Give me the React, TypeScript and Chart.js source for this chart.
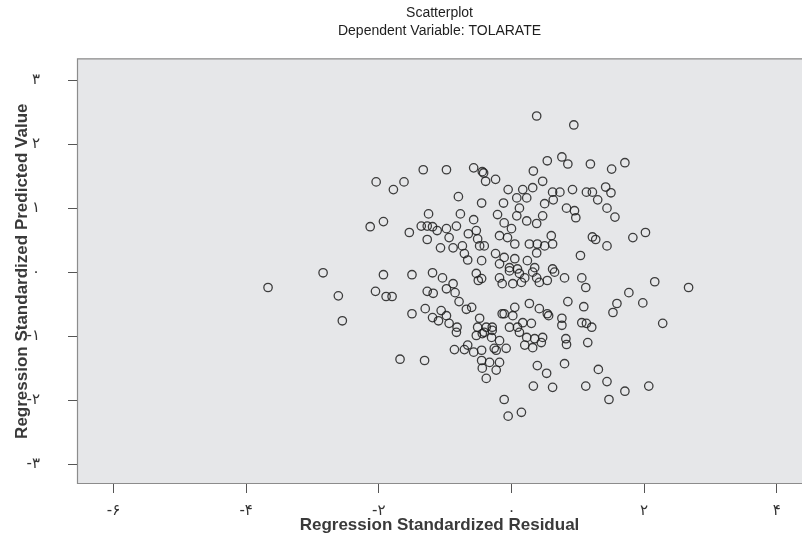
import React, { useEffect, useRef } from "react";
import { Chart, registerables } from "chart.js";

Chart.register(...registerables);

const titleLines = ["Scatterplot", "Dependent Variable: TOLARATE"];
const xTitle = "Regression Standardized Residual";
const yTitle = "Regression Standardized Predicted Value";
const persianDigits = ["۰", "۱", "۲", "۳", "۴", "۵", "۶", "۷", "۸", "۹"];
const xTickValues = [-6, -4, -2, 0, 2, 4];
const yTickValues = [-3, -2, -1, 0, 1, 2, 3];

// Regression standardized residual (x)
const residual = [
  -3.67, -2.84, -2.61, -2.55, -2.04, -1.78, -1.62, -2.13, -1.93, -1.93,
  -2.05, -1.89, -1.80, -1.68, -1.31, -1.33, -0.98, -0.57, -0.44, -0.39,
  -0.24, -0.80, -0.45, -1.54, -1.36, -1.27, -1.19, -1.27, -1.25, -0.77,
  -0.57, -1.12, -0.98, -0.83, -0.94, -1.07, -0.88, -0.74, -0.65, -0.53,
  -0.51, -0.48, -0.41, -0.71, -0.66, -0.45, -0.24, 0.38, 0.54, 0.76,
  0.33, 0.47, 0.32, 0.17, -0.05, 0.62, 0.63, 0.50, 0.23, 0.08,
  0.12, -0.12, 0.08, 0.23, 0.38, 0.47, -0.21, -0.11, 0.0, -0.18,
  -0.06, 0.05, 0.27, 0.39, 0.50, 0.38, 0.60, 0.62, -0.11, 0.05,
  -0.18, -0.03, 0.09, 0.24, 0.35, 0.62, -0.42, 0.94, 0.85, 1.19,
  1.51, 1.71, 0.73, 0.92, 1.13, 1.22, 1.42, 1.50, 1.30, 1.44,
  0.83, 0.95, 0.97, 1.56, 1.22, 1.27, 1.44, 1.83, 2.02, 1.04,
  -1.50, -1.19, -1.04, -0.88, -0.98, -0.53, -0.50, -1.27, -1.18, -0.85,
  -0.79, -0.18, -0.14, 0.02, 0.12, 0.20, -0.03, 0.15, 0.32, 0.42,
  0.38, 0.54, 0.65, 0.80, 1.06, 1.12, -0.45, 2.16, 2.67, 1.77,
  1.98, -1.50, -1.30, -1.19, -1.06, -0.98, -1.10, -0.94, -0.82, -0.83,
  -0.68, -0.60, -0.48, -0.51, -0.41, -0.29, -0.18, -0.30, -0.53, -0.66,
  -0.86, -0.71, -0.57, -0.45, -0.23, -0.08, -0.14, 0.05, 0.02, -0.03,
  0.17, 0.30, 0.12, 0.23, 0.35, 0.20, 0.32, 0.47, 0.45, 0.27,
  0.42, 0.54, 0.85, 1.09, 1.59, 1.53, 0.76, 0.76, 1.06, 1.13,
  1.21, 2.28, 0.82, 0.83, 1.15, -0.38, -0.29, -0.44, -0.26, 0.09,
  0.56, -0.11, -0.44, -0.33, -0.18, -0.23, -0.38, -0.11, -0.05, 0.15,
  0.39, 0.53, 0.33, 0.62, 0.80, 1.31, 1.44, 1.12, 1.71, 1.47,
  2.07, -0.45,
];

// Regression standardized predicted value (y)
const predicted = [
  -0.24, -0.01, -0.37, -0.76, 1.41, 1.29, 1.41, 0.71, 0.79, -0.04,
  -0.30, -0.38, -0.38, -1.36, -1.38, 1.60, 1.60, 1.63, 1.57, 1.42,
  1.45, 1.18, 1.08, 0.62, 0.72, 0.72, 0.71, 0.51, 0.91, 0.91,
  0.82, 0.65, 0.68, 0.72, 0.54, 0.38, 0.38, 0.41, 0.60, 0.65,
  0.52, 0.41, 0.41, 0.29, 0.19, 0.18, 0.29, 2.44, 1.74, 1.80,
  1.58, 1.42, 1.32, 1.29, 1.29, 1.25, 1.13, 1.07, 1.16, 1.16,
  1.00, 1.08, 0.88, 0.80, 0.76, 0.88, 0.90, 0.77, 0.68, 0.57,
  0.54, 0.44, 0.44, 0.44, 0.41, 0.30, 0.57, 0.44, 0.23, 0.21,
  0.13, 0.07, 0.05, 0.18, 0.07, 0.05, 1.55, 2.30, 1.69, 1.69,
  1.61, 1.71, 1.25, 1.29, 1.25, 1.25, 1.33, 1.24, 1.13, 1.00,
  1.00, 0.96, 0.85, 0.86, 0.55, 0.51, 0.41, 0.54, 0.62, 0.26,
  -0.04, -0.01, -0.09, -0.18, -0.26, -0.02, -0.13, -0.30, -0.33, -0.32,
  -0.46, -0.09, -0.18, -0.18, -0.02, -0.09, 0.02, -0.16, 0.0, -0.16,
  -0.09, -0.13, 0.0, -0.09, -0.09, -0.24, -0.10, -0.15, -0.24, -0.32,
  -0.48, -0.65, -0.57, -0.71, -0.60, -0.68, -0.76, -0.80, -0.86, -0.94,
  -0.58, -0.55, -0.72, -0.86, -0.94, -0.86, -1.07, -1.02, -0.99, -1.14,
  -1.21, -1.21, -1.25, -1.22, -1.22, -1.19, -0.65, -0.55, -0.68, -0.86,
  -0.79, -0.80, -0.94, -1.02, -1.04, -1.14, -1.18, -1.02, -1.10, -0.49,
  -0.57, -0.65, -0.46, -0.54, -0.49, -0.63, -0.72, -0.83, -0.79, -0.80,
  -0.86, -0.80, -1.04, -1.13, -1.10, -0.86, -0.91, -0.96, -1.19, -0.86,
  -0.68, -0.65, -1.50, -1.41, -1.41, -1.53, -1.66, -1.99, -2.25, -2.19,
  -1.46, -1.58, -1.78, -1.80, -1.43, -1.52, -1.71, -1.78, -1.86, -1.99,
  -1.78, -1.38,
];

const X_MIN = -6.55;
const X_MAX = 4.38;
const Y_MIN = -3.31;
const Y_MAX = 3.34;

function toPersian(v: number): string {
  const n = Math.round(v);
  const s = String(Math.abs(n))
    .split("")
    .map((d) => persianDigits[Number(d)])
    .join("");
  return n < 0 ? "-" + s : s;
}

const plotFrame = {
  id: "plotFrame",
  beforeDraw(chart: any) {
    const { ctx, chartArea } = chart;
    const { left, top, right, bottom } = chartArea;
    ctx.save();
    ctx.fillStyle = "#ffffff";
    ctx.fillRect(0, 0, chart.width, chart.height);
    ctx.fillStyle = "#e6e7e9";
    ctx.fillRect(left, top, right - left, bottom - top);
    ctx.strokeStyle = "#8c8c8c";
    ctx.lineWidth = 1.2;
    ctx.beginPath();
    ctx.moveTo(right, top + 0.5);
    ctx.lineTo(left + 0.5, top + 0.5);
    ctx.lineTo(left + 0.5, bottom - 0.5);
    ctx.lineTo(right, bottom - 0.5);
    ctx.stroke();
    ctx.restore();
  },
};

export default function App() {
  const canvasRef = useRef<HTMLCanvasElement | null>(null);

  useEffect(() => {
    document.body.style.margin = "0";
    const canvas = canvasRef.current;
    if (!canvas) return;
    const points = residual.map((x, i) => ({ x, y: predicted[i] }));
    const chart = new Chart(canvas, {
      type: "scatter",
      data: {
        datasets: [
          {
            data: points,
            pointStyle: "circle",
            pointRadius: 4.2,
            pointBorderWidth: 1.3,
            pointBorderColor: "rgba(30,30,30,0.85)",
            pointBackgroundColor: "rgba(0,0,0,0)",
          },
        ],
      },
      options: {
        animation: false,
        responsive: false,
        maintainAspectRatio: false,
        layout: { autoPadding: false, padding: { left: 0, right: 0, top: 0, bottom: 0 } },
        plugins: {
          legend: { display: false },
          tooltip: { enabled: false },
          title: {
            display: true,
            text: titleLines,
            fullSize: false,
            color: "#1e1e1e",
            font: { family: "'Liberation Sans', Arial, sans-serif", size: 14, weight: "normal", lineHeight: 1.3 },
            padding: { top: 4, bottom: 18 },
          },
        },
        scales: {
          x: {
            type: "linear",
            min: X_MIN,
            max: X_MAX,
            afterFit: (scale: any) => {
              scale.height = 50;
              scale.paddingLeft = 0;
              scale.paddingRight = 0;
            },
            afterBuildTicks: (scale: any) => {
              scale.ticks = xTickValues.map((v) => ({ value: v }));
            },
            border: { display: false },
            grid: {
              drawOnChartArea: false,
              drawTicks: true,
              tickLength: 9,
              color: "#555555",
              lineWidth: 1,
            },
            ticks: {
              includeBounds: false,
              stepSize: 2,
              padding: 9,
              maxRotation: 0,
              autoSkip: false,
              color: "#333333",
              font: { family: "'DejaVu Sans', sans-serif", size: 15 },
              callback: (v: any) => toPersian(Number(v)),
            },
            title: {
              display: true,
              text: xTitle,
              color: "#3a3a3a",
              font: { family: "'Liberation Sans', Arial, sans-serif", size: 17, weight: "bold", lineHeight: 1 },
              padding: { top: 0, bottom: 0 },
            },
          },
          y: {
            type: "linear",
            min: Y_MIN,
            max: Y_MAX,
            afterFit: (scale: any) => {
              scale.width = 77;
              scale.paddingTop = 0;
              scale.paddingBottom = 0;
            },
            afterBuildTicks: (scale: any) => {
              scale.ticks = yTickValues.map((v) => ({ value: v }));
            },
            border: { display: false },
            grid: {
              drawOnChartArea: false,
              drawTicks: true,
              tickLength: 9,
              color: "#555555",
              lineWidth: 1,
            },
            ticks: {
              includeBounds: false,
              stepSize: 1,
              padding: 28,
              autoSkip: false,
              color: "#333333",
              font: { family: "'DejaVu Sans', sans-serif", size: 15 },
              callback: (v: any) => toPersian(Number(v)),
            },
            title: {
              display: true,
              text: yTitle,
              color: "#3a3a3a",
              font: { family: "'Liberation Sans', Arial, sans-serif", size: 17, weight: "bold", lineHeight: 1 },
              padding: { top: 14, bottom: 0 },
            },
          },
        },
      },
      plugins: [plotFrame],
    });
    return () => chart.destroy();
  }, []);

  return (
    <div style={{ position: "absolute", left: 0, top: 0, width: 802, height: 534, overflow: "hidden" }}>
      <canvas ref={canvasRef} width={802} height={534} style={{ width: 802, height: 534 }} />
    </div>
  );
}
